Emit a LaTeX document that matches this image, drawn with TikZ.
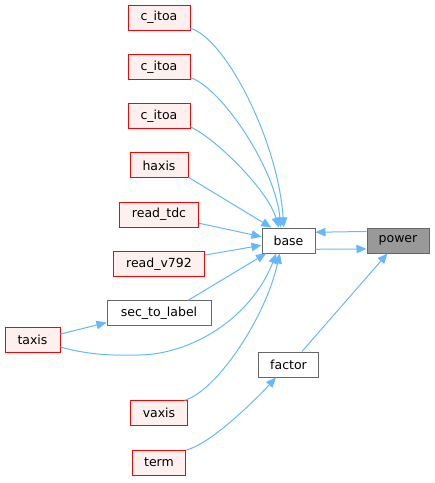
\documentclass[tikz,border=0pt]{standalone}
\usepackage{fontspec}
\setmainfont{DejaVu Sans}
\usetikzlibrary{arrows.meta,positioning}
\definecolor{NodeRed}{HTML}{FF0000}
\definecolor{PaleRed}{HTML}{FFF0F0}
\definecolor{BoxGray}{HTML}{666666}
\definecolor{RootGray}{HTML}{999999}
\definecolor{EdgeBlue}{HTML}{63B8FF}

\begin{document}
\begin{tikzpicture}[x=1pt, y=-1pt, node distance=23.3pt,
  box/.style={draw, line width=1pt, minimum height=25pt, inner sep=0pt, font=\fontsize{12.5}{15}\selectfont},
  undoc/.style={box, draw=NodeRed, fill=PaleRed},
  docbox/.style={box, draw=BoxGray, fill=white},
  rootbox/.style={box, draw=BoxGray, fill=RootGray},
  call/.style={draw=EdgeBlue, line width=1pt, -{Triangle[length=10pt,width=8.5pt]}}]
  \useasboundingbox (0,0) rectangle (435,483);

  % callers, one column
  \node[undoc, minimum width=62pt] (itoa1) at (159,17.5) {c\_itoa};
  \node[undoc, minimum width=62pt, below=of itoa1] (itoa2) {c\_itoa};
  \node[undoc, minimum width=62pt, below=of itoa2] (itoa3) {c\_itoa};
  \node[undoc, minimum width=58pt, below=of itoa3] (haxis) {haxis};
  \node[undoc, minimum width=79pt, below=of haxis] (readtdc) {read\_tdc};
  \node[undoc, minimum width=91pt, below=of readtdc] (readv) {read\_v792};
  \node[docbox, minimum width=104pt, below=of readv] (sectolabel) {sec\_to\_label};
  \node[undoc, minimum width=57pt, below=74pt of sectolabel] (vaxis) {vaxis};
  \node[undoc, minimum width=53pt, below=of vaxis] (term) {term};
  \node[undoc, minimum width=55pt] (taxis) at (32.5,339.5) {taxis};

  % callees
  \node[docbox, minimum width=53pt] (base) at (288.5,240.5) {base};
  \node[rootbox, minimum width=62pt, right=51pt of base] (power) {power};
  \node[docbox, minimum width=60pt, below=98pt of base] (factor) {factor};

  % edges
  \draw[call] (itoa1.-19) .. controls (225,38) and (278,140) .. (base.110);
  \draw[call] (itoa2.-19) .. controls (222,88) and (276,170) .. (base.121);
  \draw[call] (itoa3.-19) .. controls (215,138) and (268,190) .. (base.127);
  \draw[call] (haxis.-22) -- (base.143);
  \draw[call] (readtdc.-12) -- (base.172);
  \draw[call] (readv.11) -- (base.190);
  \draw[call] (sectolabel.24) -- (base.210);
  \draw[call] (taxis.-15) .. controls (85,354) and (110,356) .. (140,355)
    .. controls (190,354) and (250,320) .. (base.227);
  \draw[call] (vaxis.27) .. controls (215,392) and (265,320) .. (base.236);
  \draw[call] (taxis.11) -- (sectolabel.190);
  \draw[call] (base.-18) -- (power.195);
  \draw[call] (power.164) -- (base.17);
  \draw[call] (factor.44) -- (power.231);
  \draw[call] (term.25) .. controls (212,444) and (260,395) .. (factor.226);
\end{tikzpicture}
\end{document}
